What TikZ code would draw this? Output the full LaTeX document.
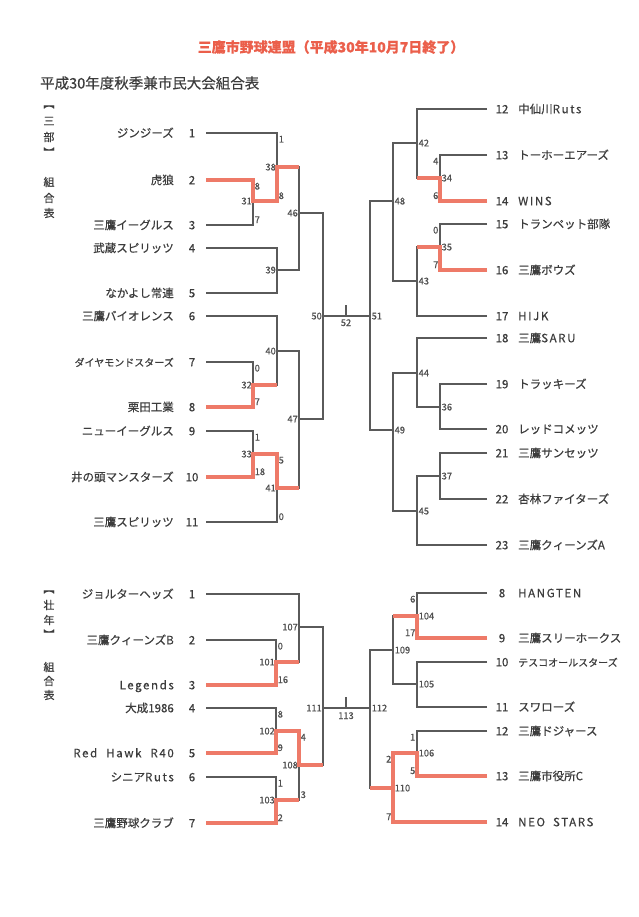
\documentclass[tikz,border=0pt]{standalone}
\usepackage{fontspec}
\setmainfont{Noto Sans CJK JP}[FakeBold=0.45]
\newfontfamily\widelat{Noto Sans CJK JP}[LetterSpace=14,FakeBold=0.45]
\definecolor{lg}{RGB}{90,90,90}
\definecolor{txt}{RGB}{60,60,60}
\definecolor{lbl}{RGB}{80,80,80}
\definecolor{rd}{RGB}{238,122,104}
\definecolor{ttl}{RGB}{235,95,75}
\newcommand\lteam[4]{%
  \node[tname,anchor=base east] (ln#1) at (174,#2+4.3) {#3};
  \node[tnum,anchor=base] (lk#1) at (192,#2+4.3) {#4};
  \coordinate (L#1) at (206,#2);}
\newcommand\rteam[4]{%
  \node[tnum,anchor=base] (rk#1) at (502,#2+4.3) {#4};
  \node[tname,anchor=base west] (rn#1) at (518,#2+4.3) {#3};
  \coordinate (R#1) at (487,#2);}
\newcommand\mL[3]{\coordinate (M#1) at (#2,#3);
  \node[mlab,anchor=base east] (t#1) at (#2-1,#3+3.4) {#1};}
\newcommand\mR[3]{\coordinate (M#1) at (#2,#3);
  \node[mlab,anchor=base west] (t#1) at (#2+1.5,#3+3.4) {#1};}
% score labels: name, x, y(arm), text
\newcommand\sLt[4]{\node[mlab,anchor=base west] (#1) at (#2+1.5,#3+9.5) {#4};}
\newcommand\sLb[4]{\node[mlab,anchor=base west] (#1) at (#2+1.5,#3-2) {#4};}
\newcommand\sRt[4]{\node[mlab,anchor=base east] (#1) at (#2-1.5,#3+9.5) {#4};}
\newcommand\sRb[4]{\node[mlab,anchor=base east] (#1) at (#2-1.5,#3-2) {#4};}
\begin{document}
\begin{tikzpicture}[x=1pt,y=-1pt,
  tname/.style={font=\fontsize{11.5}{13}\selectfont,text=txt,inner sep=0pt},
  tnum/.style={font=\fontsize{11.5}{13}\selectfont,text=txt,inner sep=0pt},
  mlab/.style={font=\fontsize{9.3}{10}\selectfont,text=lbl,inner sep=0pt},
  sidech/.style={font=\fontsize{11}{12}\selectfont,text=txt,inner sep=0pt},
  gline/.style={draw=lg,line width=1.1pt},
  rline/.style={draw=rd,line width=3.2pt,line join=miter}]
\useasboundingbox (0,0) rectangle (638,917);
\fill[white] (0,0) rectangle (638,917);
% titles
\node[font=\fontsize{14}{16}\selectfont\bfseries,text=ttl,inner sep=0pt] (title) at (331,47) {三鷹市野球連盟（平成30年10月7日終了）};
\node[font=\fontsize{14.5}{16}\selectfont,text=txt,anchor=west,inner sep=0pt] (sub) at (40,83) {平成30年度秋季兼市民大会組合表};
% side labels
\node[sidech] (v1) at (49,107) {︻};
\node[sidech] (v2) at (49,121) {三};
\node[sidech] (v3) at (49,137) {部};
\node[sidech] (v4) at (49,152) {︼};
\node[sidech] (v5) at (49,182) {組};
\node[sidech] (v6) at (49,198) {合};
\node[sidech] (v7) at (49,213) {表};
\node[sidech] (w1) at (49,592) {︻};
\node[sidech] (w2) at (49,605) {壮};
\node[sidech] (w3) at (49,620) {年};
\node[sidech] (w4) at (49,634) {︼};
\node[sidech] (w5) at (49,667) {組};
\node[sidech] (w6) at (49,681) {合};
\node[sidech] (w7) at (49,695) {表};
% teams top-left
\lteam{a1}{133}{ジンジーズ}{1}
\lteam{a2}{180}{虎狼}{2}
\lteam{a3}{225}{三鷹イーグルス}{3}
\lteam{a4}{248}{武蔵スピリッツ}{4}
\lteam{a5}{293}{なかよし常連}{5}
\lteam{a6}{316}{三鷹バイオレンス}{6}
\lteam{a7}{362}{\fontsize{10}{12}\selectfont ダイヤモンドスターズ}{7}
\lteam{a8}{407}{栗田工業}{8}
\lteam{a9}{431}{ニューイーグルス}{9}
\lteam{a10}{477}{井の頭マンスターズ}{10}
\lteam{a11}{522}{三鷹スピリッツ}{11}
% teams top-right
\rteam{b12}{109}{中仙川{\widelat Ruts}}{12}
\rteam{b13}{155}{トーホーエアーズ}{13}
\rteam{b14}{201}{{\widelat WINS}}{14}
\rteam{b15}{224}{トランペット部隊}{15}
\rteam{b16}{270}{三鷹ボウズ}{16}
\rteam{b17}{316}{{\widelat HIJK}}{17}
\rteam{b18}{338}{三鷹{\widelat SARU}}{18}
\rteam{b19}{384}{トラッキーズ}{19}
\rteam{b20}{429}{レッドコメッツ}{20}
\rteam{b21}{453}{三鷹サンセッツ}{21}
\rteam{b22}{499}{杏林ファイターズ}{22}
\rteam{b23}{545}{三鷹クィーンズ{\widelat A}}{23}
% teams bottom-left
\lteam{c1}{594}{ジョルターヘッズ}{1}
\lteam{c2}{640}{三鷹クィーンズ{\widelat B}}{2}
\lteam{c3}{685}{{\widelat Legends}}{3}
\lteam{c4}{708}{大成1986}{4}
\lteam{c5}{753}{{\widelat Red\hspace{9pt}Hawk\hspace{9pt}R40}}{5}
\lteam{c6}{777}{シニア{\widelat Ruts}}{6}
\lteam{c7}{823}{三鷹野球クラブ}{7}
% teams bottom-right
\rteam{d8}{593}{{\widelat HANGTEN}}{8}
\rteam{d9}{638}{三鷹スリーホークス}{9}
\rteam{d10}{662}{\fontsize{10}{12}\selectfont テスコオールスターズ}{10}
\rteam{d11}{707}{スワローズ}{11}
\rteam{d12}{731}{三鷹ドジャース}{12}
\rteam{d13}{776}{三鷹市役所{\widelat C}}{13}
\rteam{d14}{822}{{\widelat NEO\hspace{8pt}STARS}}{14}
% match points top-left
\mL{31}{253}{201}
\mL{38}{277}{167}
\mL{39}{277}{270}
\mL{46}{299}{213}
\mL{32}{253}{385}
\mL{40}{277}{351}
\mL{33}{253}{454}
\mL{41}{277}{488}
\mL{47}{299}{419}
\mL{50}{323}{316}
\coordinate (M52) at (346,316);
\coordinate (T52) at (346,305);
\node[mlab,anchor=base] (t52) at (346,326) {52};
% top-right
\mR{34}{440}{178}
\mR{42}{417}{143}
\mR{35}{440}{247}
\mR{43}{417}{281}
\mR{48}{393}{201}
\mR{36}{440}{407}
\mR{44}{417}{373}
\mR{37}{440}{476}
\mR{45}{417}{511}
\mR{49}{393}{430}
\mR{51}{370}{316}
% bottom-left
\mL{101}{276}{662}
\mL{107}{299}{627}
\mL{102}{276}{731}
\mL{103}{276}{800}
\mL{108}{299}{765}
\mL{111}{323}{708}
\coordinate (M113) at (346,708);
\coordinate (T113) at (346,697);
\node[mlab,anchor=base] (t113) at (346,719) {113};
% bottom-right
\mR{104}{417}{616}
\mR{105}{417}{684}
\mR{109}{393}{650}
\mR{106}{417}{753}
\mR{110}{393}{788}
\mR{112}{370}{708}
% scores
\sLt{s31a}{253}{180}{8}  \sLb{s31b}{253}{225}{7}
\sLt{s38a}{277}{133}{1}  \sLb{s38b}{277}{201}{8}
\sLt{s32a}{253}{362}{0}  \sLb{s32b}{253}{407}{7}
\sLt{s33a}{253}{431}{1}  \sLb{s33b}{253}{477}{18}
\sLt{s41a}{277}{454}{5}  \sLb{s41b}{277}{522}{0}
\sRt{s34a}{440}{155}{4}  \sRb{s34b}{440}{201}{6}
\sRt{s35a}{440}{224}{0}  \sRb{s35b}{440}{270}{7}
\sLt{s101a}{276}{640}{0} \sLb{s101b}{276}{685}{16}
\sLt{s102a}{276}{708}{8} \sLb{s102b}{276}{753}{9}
\sLt{s103a}{276}{777}{1} \sLb{s103b}{276}{823}{2}
\sLt{s108a}{299}{731}{4} \sLb{s108b}{299}{800}{3}
\sRt{s104a}{417}{593}{6} \sRb{s104b}{417}{638}{17}
\sRt{s106a}{417}{731}{1} \sRb{s106b}{417}{776}{5}
\sRt{s110a}{393}{753}{2} \sRb{s110b}{393}{822}{7}
% gray bracket lines
\draw[gline] (La2) -| (M31) (La3) -| (M31)
  (La1) -| (M38) (M31) -| (M38)
  (La4) -| (M39) (La5) -| (M39)
  (M38) -| (M46) (M39) -| (M46)
  (La7) -| (M32) (La8) -| (M32)
  (La6) -| (M40) (M32) -| (M40)
  (La9) -| (M33) (La10) -| (M33)
  (M33) -| (M41) (La11) -| (M41)
  (M40) -| (M47) (M41) -| (M47)
  (M46) -| (M50) (M47) -| (M50)
  (M50) -- (M51) (M52) -- (T52);
\draw[gline] (Rb13) -| (M34) (Rb14) -| (M34)
  (Rb12) -| (M42) (M34) -| (M42)
  (Rb15) -| (M35) (Rb16) -| (M35)
  (M35) -| (M43) (Rb17) -| (M43)
  (M42) -| (M48) (M43) -| (M48)
  (Rb19) -| (M36) (Rb20) -| (M36)
  (Rb18) -| (M44) (M36) -| (M44)
  (Rb21) -| (M37) (Rb22) -| (M37)
  (M37) -| (M45) (Rb23) -| (M45)
  (M44) -| (M49) (M45) -| (M49)
  (M48) -| (M51) (M49) -| (M51);
\draw[gline] (Lc2) -| (M101) (Lc3) -| (M101)
  (Lc1) -| (M107) (M101) -| (M107)
  (Lc4) -| (M102) (Lc5) -| (M102)
  (Lc6) -| (M103) (Lc7) -| (M103)
  (M102) -| (M108) (M103) -| (M108)
  (M107) -| (M111) (M108) -| (M111)
  (M111) -- (M112) (M113) -- (T113);
\draw[gline] (Rd8) -| (M104) (Rd9) -| (M104)
  (Rd10) -| (M105) (Rd11) -| (M105)
  (M104) -| (M109) (M105) -| (M109)
  (Rd12) -| (M106) (Rd13) -| (M106)
  (M106) -| (M110) (Rd14) -| (M110)
  (M109) -| (M112) (M110) -| (M112);
% red winner paths
\draw[rline] (La2) -| (M31) -| (M38) -- (M38 -| M46);
\draw[rline] (La8) -| (M32) -- (M32 -| M40);
\draw[rline] (La10) -| (M33) -| (M41) -- (M41 -| M47);
\draw[rline] (Rb14) -| (M34) -- (M34 -| M42);
\draw[rline] (Rb16) -| (M35) -- (M35 -| M43);
\draw[rline] (Lc3) -| (M101) -- (M101 -| M107);
\draw[rline] (Lc5) -| (M102) -| (M108) -- (M108 -| M111);
\draw[rline] (Lc7) -| (M103) -- (M103 -| M108);
\draw[rline] (Rd9) -| (M104) -- (M104 -| M109);
\draw[rline] (Rd13) -| (M106) -| (M110) -- (M110 -| M112);
\draw[rline] (Rd14) -| (M110);
\end{tikzpicture}
\end{document}
